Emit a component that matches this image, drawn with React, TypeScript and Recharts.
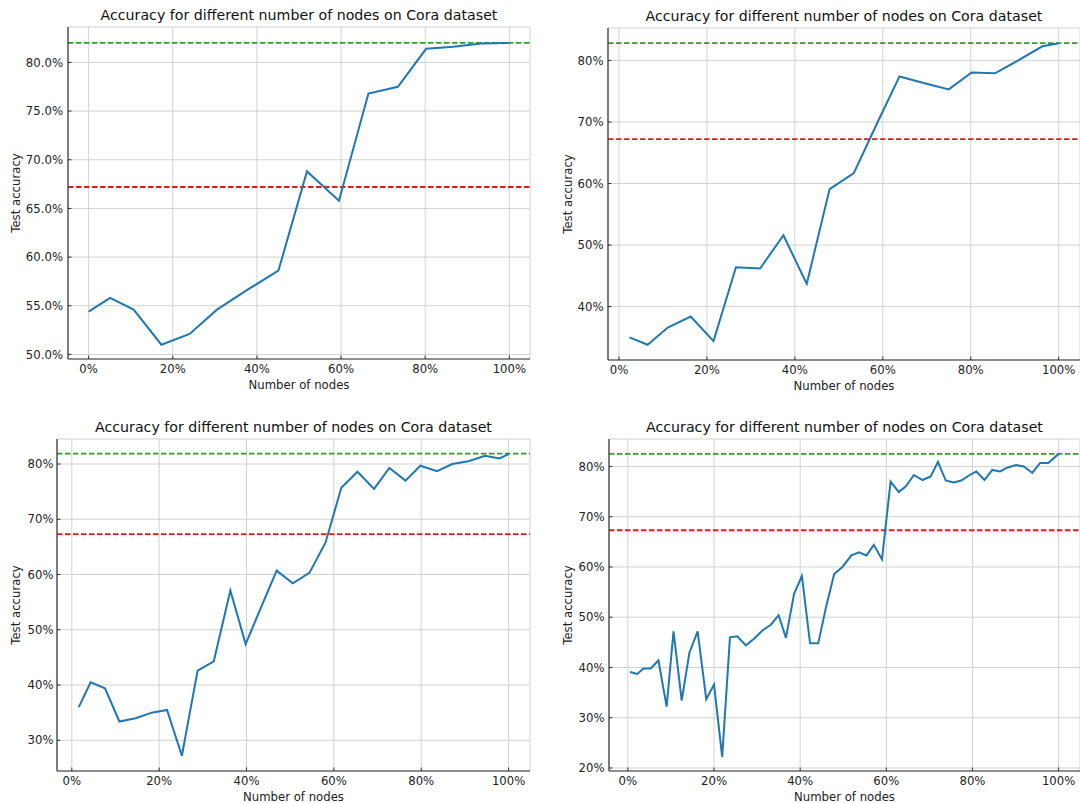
import React from 'react';
import {
  LineChart,
  Line,
  XAxis,
  YAxis,
  CartesianGrid,
  ReferenceLine,
  Label,
} from 'recharts';

const FONT = '"DejaVu Sans", Verdana, sans-serif';
const TITLE = 'Accuracy for different number of nodes on Cora dataset';

// shared x ticks (share of nodes, in %)
const xTicks = [0, 20, 40, 60, 80, 100];

// top-left run
const nodesA = [0, 5.1, 10.7, 17.3, 24.0, 30.5, 37.6, 45.1, 51.9, 59.5, 66.5, 73.5, 80.2, 86.7, 93.3, 100];
const accA = [54.4, 55.8, 54.6, 51.0, 52.1, 54.6, 56.6, 58.6, 68.8, 65.8, 76.8, 77.5, 81.4, 81.6, 81.95, 82.0];
const yTicksA = [50, 55, 60, 65, 70, 75, 80];

// top-right run
const nodesB = [2.4, 6.5, 11.1, 16.3, 21.5, 26.6, 32.1, 37.4, 42.7, 47.9, 53.4, 58.7, 63.8, 69.5, 75.0, 80.2, 85.5, 90.8, 96.3, 100];
const accB = [35.0, 33.8, 36.6, 38.4, 34.4, 46.4, 46.2, 51.6, 43.7, 59.1, 61.7, 69.8, 77.4, 76.3, 75.3, 78.05, 77.9, 80.0, 82.3, 82.8];
const yTicksB = [40, 50, 60, 70, 80];

// bottom-left run
const nodesC = [1.6, 4.3, 7.6, 10.9, 14.6, 18.3, 21.8, 25.2, 28.8, 32.5, 36.3, 39.8, 43.4, 46.9, 50.6, 54.4, 58.1, 61.7, 65.4, 69.2, 72.7, 76.4, 79.8, 83.6, 87.1, 90.8, 94.6, 97.9, 100];
const accC = [36.0, 40.5, 39.4, 33.4, 34.0, 35.0, 35.5, 27.2, 42.6, 44.3, 57.1, 47.4, 54.2, 60.7, 58.4, 60.3, 65.8, 75.7, 78.6, 75.5, 79.3, 77.0, 79.7, 78.7, 80.0, 80.5, 81.5, 81.0, 81.8];
const yTicksC = [30, 40, 50, 60, 70, 80];

// bottom-right run
const nodesD = [
  0.5, 2.2, 3.6, 5.3, 7.1, 9.0, 10.6, 12.5, 14.3, 16.2, 18.2, 20.0, 21.9, 23.7, 25.4,
  27.4, 29.3, 31.3, 33.2, 35.0, 36.7, 38.6, 40.4, 42.3, 44.2, 46.0, 47.9, 49.8, 51.9, 53.7,
  55.4, 57.1, 59.0, 61.0, 62.9, 64.6, 66.4, 68.4, 70.3, 72.0, 73.8, 75.6, 77.4, 79.2, 80.9,
  82.8, 84.6, 86.4, 88.2, 90.1, 91.9, 93.9, 95.7, 97.6, 100,
];
const accD = [
  39.1, 38.7, 39.8, 39.8, 41.4, 32.2, 47.2, 33.4, 43.0, 47.2, 33.7, 36.6, 22.2, 46.0, 46.2,
  44.4, 45.7, 47.4, 48.5, 50.4, 45.9, 54.7, 58.2, 44.8, 44.8, 52.0, 58.6, 60.0, 62.3, 62.9,
  62.3, 64.4, 61.5, 77.0, 74.9, 76.1, 78.3, 77.3, 78.0, 80.9, 77.2, 76.8, 77.2, 78.2, 79.0,
  77.3, 79.3, 79.0, 79.8, 80.3, 80.0, 78.7, 80.7, 80.7, 82.5,
];
const yTicksD = [20, 30, 40, 50, 60, 70, 80];

// baselines (full-graph accuracy and reference accuracy)
const greenLevels = [82.0, 82.8, 81.9, 82.5];
const redLevels = [67.2, 67.2, 67.3, 67.3];

const toRows = (nodes: number[], acc: number[]) => nodes.map((n, i) => ({ nodes: n, acc: acc[i] }));

// ticks point inwards, so draw them by hand next to the label
function makeYTick(gap: number, digits: number) {
  return (props: any) => {
    const { x, y, payload } = props;
    return (
      <g>
        <line x1={x + gap} x2={x + gap + 3.5} y1={y} y2={y} stroke="#333" strokeWidth={1} />
        <text x={x} y={y} dy="0.36em" textAnchor="end" fontSize={11.7} fontFamily={FONT} fill="#222">
          {Number(payload.value).toFixed(digits)}%
        </text>
      </g>
    );
  };
}

function makeXTick(gap: number) {
  return (props: any) => {
    const { x, y, payload } = props;
    return (
      <g>
        <line x1={x} x2={x} y1={y - gap} y2={y - gap - 3.5} stroke="#333" strokeWidth={1} />
        <text x={x} y={y} dy="0.71em" textAnchor="middle" fontSize={11.7} fontFamily={FONT} fill="#222">
          {payload.value}%
        </text>
      </g>
    );
  };
}

interface PanelProps {
  left: number;
  top: number;
  width: number;
  height: number;
  margin: { top: number; right: number; bottom: number; left: number };
  yWidth: number;
  xHeight: number;
  rows: { nodes: number; acc: number }[];
  xDomain: [number, number];
  yDomain: [number, number];
  yTicks: number[];
  digits: number;
  green: number;
  red: number;
  yGap: number;
  yLabelOffset: number;
  titleY: number;
}

function Panel(p: PanelProps) {
  const plotLeft = p.margin.left + p.yWidth;
  const plotWidth = p.width - plotLeft - p.margin.right;
  const centerX = p.left + plotLeft + plotWidth / 2;
  const labelStyle = { fontSize: 11.7, fontFamily: FONT, fill: '#222' };

  return (
    <>
      <div
        style={{
          position: 'absolute',
          left: centerX - 260,
          top: p.titleY - 9,
          width: 520,
          lineHeight: '18px',
          textAlign: 'center',
          fontFamily: FONT,
          fontSize: 14.2,
          color: '#111',
          whiteSpace: 'nowrap',
        }}
      >
        {TITLE}
      </div>
      <div style={{ position: 'absolute', left: p.left, top: p.top }}>
        <LineChart width={p.width} height={p.height} data={p.rows} margin={p.margin}>
          <CartesianGrid stroke="#d2d2d2" strokeWidth={1} />
          <XAxis
            type="number"
            dataKey="nodes"
            domain={p.xDomain}
            allowDataOverflow
            ticks={xTicks}
            interval={0}
            height={p.xHeight}
            tickSize={0}
            tickMargin={6}
            tickLine={false}
            axisLine={{ stroke: '#333', strokeWidth: 1.2 }}
            tick={makeXTick(6)}
          >
            <Label value="Number of nodes" position="insideBottom" offset={p.xHeight - 30} style={labelStyle} />
          </XAxis>
          <YAxis
            type="number"
            domain={p.yDomain}
            allowDataOverflow
            ticks={p.yTicks}
            interval={0}
            width={p.yWidth}
            tickSize={0}
            tickMargin={p.yGap}
            tickLine={false}
            axisLine={{ stroke: '#333', strokeWidth: 1.2 }}
            tick={makeYTick(p.yGap, p.digits)}
          >
            <Label
              value="Test accuracy"
              position="insideLeft"
              angle={-90}
              offset={p.yLabelOffset}
              style={{ ...labelStyle, textAnchor: 'middle' }}
            />
          </YAxis>
          <ReferenceLine y={p.green} stroke="#2ca02c" strokeWidth={1.8} strokeDasharray="5.5 2.5" />
          <ReferenceLine y={p.red} stroke="#e41a1c" strokeWidth={1.8} strokeDasharray="5.5 2.5" />
          <Line
            type="linear"
            dataKey="acc"
            stroke="#1f77b4"
            strokeWidth={2}
            dot={false}
            isAnimationActive={false}
          />
        </LineChart>
      </div>
    </>
  );
}

export default function App() {
  return (
    <div
      style={{
        position: 'absolute',
        left: 0,
        top: 0,
        width: 1080,
        height: 803,
        background: '#fff',
        overflow: 'hidden',
      }}
    >
      <Panel
        left={0}
        top={0}
        width={540}
        height={400}
        margin={{ top: 27, right: 10, bottom: 1, left: 8 }}
        yWidth={60}
        xHeight={40}
        rows={toRows(nodesA, accA)}
        xDomain={[-4.9, 104.9]}
        yDomain={[49.53, 83.64]}
        yTicks={yTicksA}
        digits={1}
        green={greenLevels[0]}
        red={redLevels[0]}
        yGap={5}
        yLabelOffset={7.5}
        titleY={15}
      />
      <Panel
        left={540}
        top={0}
        width={540}
        height={400}
        margin={{ top: 28, right: 0, bottom: 0, left: 8 }}
        yWidth={60}
        xHeight={40}
        rows={toRows(nodesB, accB)}
        xDomain={[-2.5, 104.85]}
        yDomain={[31.33, 85.27]}
        yTicks={yTicksB}
        digits={0}
        green={greenLevels[1]}
        red={redLevels[1]}
        yGap={4.5}
        yLabelOffset={19.5}
        titleY={15.7}
      />
      <Panel
        left={0}
        top={400}
        width={540}
        height={403}
        margin={{ top: 39, right: 10, bottom: 0, left: 0 }}
        yWidth={57}
        xHeight={32}
        rows={toRows(nodesC, accC)}
        xDomain={[-3.39, 104.9]}
        yDomain={[24.44, 84.53]}
        yTicks={yTicksC}
        digits={0}
        green={greenLevels[2]}
        red={redLevels[2]}
        yGap={3.5}
        yLabelOffset={15.5}
        titleY={426.7}
      />
      <Panel
        left={540}
        top={400}
        width={540}
        height={403}
        margin={{ top: 39, right: 0, bottom: 0, left: 9 }}
        yWidth={60}
        xHeight={32}
        rows={toRows(nodesD, accD)}
        xDomain={[-4.38, 104.97]}
        yDomain={[19.4, 85.46]}
        yTicks={yTicksD}
        digits={0}
        green={greenLevels[3]}
        red={redLevels[3]}
        yGap={4.5}
        yLabelOffset={18.5}
        titleY={426.7}
      />
    </div>
  );
}
